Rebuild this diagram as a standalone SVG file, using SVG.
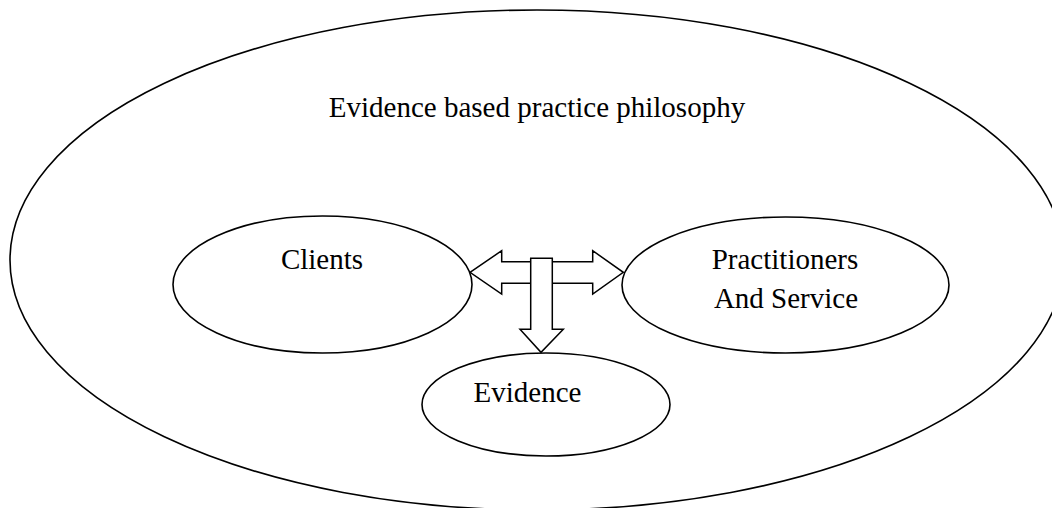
<svg xmlns="http://www.w3.org/2000/svg" width="1052" height="508" viewBox="0 0 1052 508">
<style>
.sh{fill:#fff;stroke:#000;stroke-width:1.6}
.ar{fill:#fff;stroke:#000;stroke-width:1.5;stroke-linejoin:miter}
.t{font-family:"Liberation Serif","Times New Roman",serif;font-size:29px;fill:#000;text-anchor:middle}
</style>
<rect width="1052" height="508" fill="#fff"/>
<g id="philosophy">
<ellipse class="sh" cx="537" cy="260" rx="527" ry="250"/>
<text class="t" x="537" y="117">Evidence based practice philosophy</text>
</g>
<g id="clients">
<ellipse class="sh" cx="322.5" cy="284.5" rx="149.5" ry="68.5"/>
<text class="t" x="322" y="269">Clients</text>
</g>
<g id="practitioners">
<ellipse class="sh" cx="785.5" cy="285" rx="163.5" ry="68"/>
<text class="t" x="785" y="269">Practitioners</text>
<text class="t" x="786" y="308">And Service</text>
</g>
<g id="evidence">
<ellipse class="sh" cx="546" cy="404.5" rx="124" ry="51.5"/>
<text class="t" x="527.5" y="402">Evidence</text>
</g>
<g id="connectors">
<path class="ar" d="M470,272.3 L501.7,250.7 L501.7,261.7 L592.7,261.7 L592.7,250.7 L623.3,272.3 L592.7,294 L592.7,283.3 L501.7,283.3 L501.7,294 Z"/>
<path class="ar" d="M530.7,258.3 L552.3,258.3 L552.3,329.3 L563.3,329.3 L541,352.3 L520,329.3 L530.7,329.3 Z"/>
</g>
</svg>
